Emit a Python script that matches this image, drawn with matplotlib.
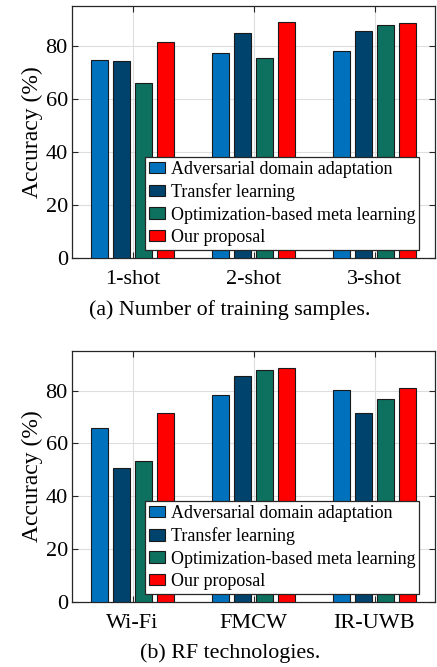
import matplotlib
matplotlib.use("Agg")
import matplotlib.pyplot as plt
import numpy as np

plt.rcParams['font.family'] = ['Liberation Serif', 'DejaVu Serif']
plt.rcParams['mathtext.fontset'] = 'stix'

series_names = ["Adversarial domain adaptation", "Transfer learning",
                "Optimization-based meta learning", "Our proposal"]
colors = ["#0072BD", "#00446E", "#0E705E", "#FF0000"]

cats_a = ["1-shot", "2-shot", "3-shot"]
ada_a = [74.7, 77.1, 78.1]
tl_a = [74.2, 84.8, 85.5]
obml_a = [65.9, 75.4, 87.8]
ours_a = [81.4, 88.9, 88.5]

cats_b = ["Wi-Fi", "FMCW", "IR-UWB"]
ada_b = [65.7, 78.2, 80.1]
tl_b = [50.9, 85.7, 71.4]
obml_b = [53.5, 87.8, 76.7]
ours_b = [71.7, 88.6, 80.9]

yticks = [0, 20, 40, 60, 80]

W, H = 437, 667
fig = plt.figure(figsize=(W/100, H/100), dpi=100)

def make_ax(top_px, bottom_px, cats, data, caption, cap_y):
    left_px, right_px = 72, 435
    ax = fig.add_axes([left_px/W, 1 - bottom_px/H, (right_px-left_px)/W, (bottom_px-top_px)/H])
    x = np.arange(1, len(cats)+1)
    offs = [-0.273, -0.091, 0.091, 0.273]
    for i, vals in enumerate(data):
        ax.bar(x + offs[i], vals, width=0.146, color=colors[i], edgecolor='#1a1a1a',
               linewidth=0.8, label=series_names[i], zorder=3)
    ax.set_xlim(0.5, 3.5)
    ax.set_ylim(0, 95)
    ax.set_xticks(x)
    ax.set_xticklabels(cats)
    ax.set_yticks(yticks)
    ax.tick_params(direction='in', top=True, right=True, labelsize=16, length=4,
                   width=0.8, color='#262626')
    ax.tick_params(axis='x', pad=9)
    ax.tick_params(axis='y', pad=3)
    ax.grid(True, color='#dedede', linewidth=0.8, zorder=0)
    ax.set_axisbelow(True)
    for s in ax.spines.values():
        s.set_color('#262626')
        s.set_linewidth(0.9)
    ax.set_ylabel("Accuracy (%)", fontsize=17, labelpad=2)
    leg = ax.legend(loc='lower right', bbox_to_anchor=(0.957, 0.032), fontsize=13.0,
                    frameon=True, fancybox=False, edgecolor='#262626', framealpha=1,
                    borderpad=0.22, handlelength=0.9, handleheight=0.6, handletextpad=0.3,
                    labelspacing=0.3, borderaxespad=0.0)
    leg.get_frame().set_linewidth(0.9)
    leg.set_zorder(5)
    fig.text(0.5 + 11.5/W, 1 - cap_y/H, caption, ha='center', va='center', fontsize=15.8)
    return ax

make_ax(6, 258, cats_a, [ada_a, tl_a, obml_a, ours_a], "(a) Number of training samples.", 310)
make_ax(351, 602, cats_b, [ada_b, tl_b, obml_b, ours_b], "(b) RF technologies.", 653)

fig.savefig("out.png", dpi=100)
